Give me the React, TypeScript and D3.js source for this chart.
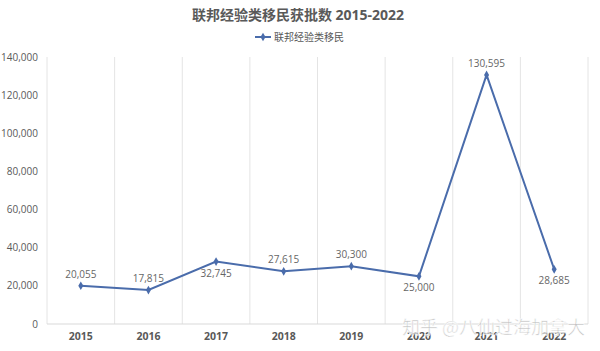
import React, { useEffect, useRef } from 'react';
import * as d3 from 'd3';

const years = ['2015', '2016', '2017', '2018', '2019', '2020', '2021', '2022'];
const approvals = [20055, 17815, 32745, 27615, 30300, 25000, 130595, 28685];
// label placement: true = above the point
const labelAbove = [true, true, false, true, true, false, true, false];
const yTicks = [0, 20000, 40000, 60000, 80000, 100000, 120000, 140000];

const seriesName = '联邦经验类移民';
const title = '联邦经验类移民获批数 2015-2022';

const App = () => {
  const ref = useRef<SVGSVGElement>(null);

  useEffect(() => {
    const svg = d3.select(ref.current);
    svg.selectAll('*').remove();

    const W = 600;
    const H = 351;
    const margin = { top: 57, right: 12, bottom: 27, left: 47 };
    const innerH = H - margin.top - margin.bottom;

    const x = d3.scaleBand().domain(years).range([margin.left, W - margin.right]);
    const y = d3.scaleLinear().domain([0, 140000]).range([H - margin.bottom, margin.top]);

    const font = "'Open Sans', 'Noto Sans CJK SC', sans-serif";
    const lineColor = '#4a6cab';

    svg.append('rect').attr('width', W).attr('height', H).attr('fill', '#fff');

    // vertical category grid lines
    const bounds = years.map((d) => x(d)!).concat([x(years[years.length - 1])! + x.bandwidth()]);
    svg.append('g')
      .selectAll('line')
      .data(bounds)
      .join('line')
      .attr('x1', (d) => d)
      .attr('x2', (d) => d)
      .attr('y1', margin.top)
      .attr('y2', H - margin.bottom)
      .attr('stroke', '#e4e4e4')
      .attr('stroke-width', 1);

    // baseline
    svg.append('line')
      .attr('x1', margin.left)
      .attr('x2', W - margin.right)
      .attr('y1', y(0))
      .attr('y2', y(0))
      .attr('stroke', '#d9d9d9');

    // y axis labels
    svg.append('g')
      .selectAll('text')
      .data(yTicks)
      .join('text')
      .attr('x', margin.left - 9)
      .attr('y', (d) => y(d))
      .attr('dy', '0.35em')
      .attr('text-anchor', 'end')
      .attr('font-family', font)
      .attr('font-size', 10)
      .attr('fill', '#595959')
      .text((d) => d3.format(',')(d));

    // x axis labels
    svg.append('g')
      .selectAll('text')
      .data(years)
      .join('text')
      .attr('x', (d) => x(d)! + x.bandwidth() / 2)
      .attr('y', H - margin.bottom + 16)
      .attr('text-anchor', 'middle')
      .attr('font-family', font)
      .attr('font-size', 10.5)
      .attr('font-weight', 'bold')
      .attr('fill', '#595959')
      .text((d) => d);

    const pts = years.map((yr, i) => ({ yr, v: approvals[i], above: labelAbove[i] }));
    const line = d3.line<{ yr: string; v: number }>()
      .x((d) => x(d.yr)! + x.bandwidth() / 2)
      .y((d) => y(d.v));

    svg.append('path')
      .datum(pts)
      .attr('d', line)
      .attr('fill', 'none')
      .attr('stroke', lineColor)
      .attr('stroke-width', 2);

    const diamond = d3.symbol().type(d3.symbolDiamond).size(22);
    svg.append('g')
      .selectAll('path')
      .data(pts)
      .join('path')
      .attr('d', diamond)
      .attr('transform', (d) => `translate(${x(d.yr)! + x.bandwidth() / 2},${y(d.v)})`)
      .attr('fill', lineColor);

    svg.append('g')
      .selectAll('text')
      .data(pts)
      .join('text')
      .attr('x', (d) => x(d.yr)! + x.bandwidth() / 2)
      .attr('y', (d) => y(d.v) + (d.above ? -8 : 15))
      .attr('text-anchor', 'middle')
      .attr('font-family', font)
      .attr('font-size', 10)
      .attr('fill', '#666')
      .text((d) => d3.format(',')(d.v));

    // title
    svg.append('text')
      .attr('x', 298)
      .attr('y', 20)
      .attr('text-anchor', 'middle')
      .attr('font-family', font)
      .attr('font-size', 14)
      .attr('font-weight', 'bold')
      .attr('fill', '#595959')
      .text(title);

    // legend
    const lg = svg.append('g').attr('transform', 'translate(255,37)');
    lg.append('line').attr('x1', 0).attr('x2', 16).attr('stroke', lineColor).attr('stroke-width', 2);
    lg.append('path').attr('d', diamond).attr('transform', 'translate(8,0)').attr('fill', lineColor);
    lg.append('text')
      .attr('x', 19)
      .attr('dy', '0.35em')
      .attr('font-family', font)
      .attr('font-size', 10)
      .attr('fill', '#595959')
      .text(seriesName);

    // watermark
    svg.append('text')
      .attr('x', 585)
      .attr('y', 334)
      .attr('text-anchor', 'end')
      .attr('font-family', "'Noto Sans CJK SC', sans-serif")
      .attr('font-size', 18)
      .attr('fill', '#b0b0b0')
      .attr('fill-opacity', 0.75)
      .attr('stroke', '#fff')
      .attr('stroke-width', 0.6)
      .text('知乎 @八仙过海加拿大');

    void innerH;
  }, []);

  return (
    <svg
      ref={ref}
      width={600}
      height={351}
      style={{ position: 'absolute', left: 0, top: 0 }}
    />
  );
};

export default App;
